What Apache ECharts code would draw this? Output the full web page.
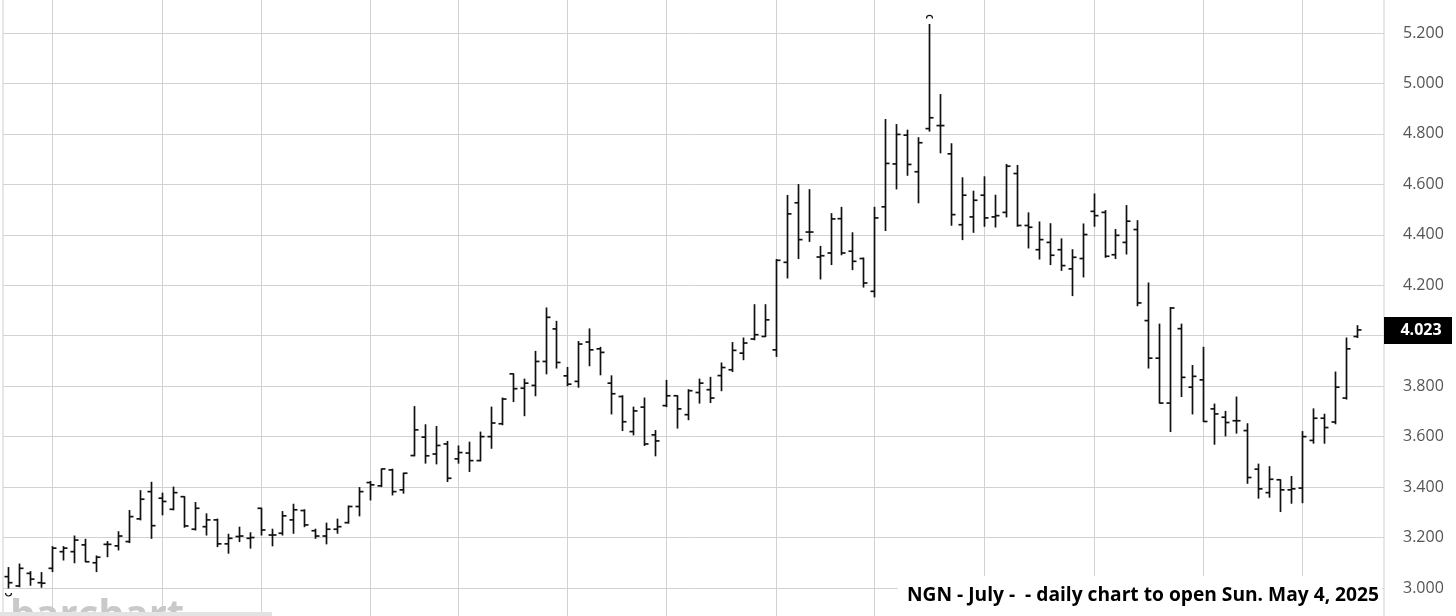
<!DOCTYPE html>
<html><head><meta charset="utf-8">
<script src="https://cdn.jsdelivr.net/npm/echarts@6/dist/echarts.min.js"></script>
<style>html,body{margin:0;padding:0;background:#fff}#c{width:1456px;height:616px}</style>
</head><body><div id="c"></div>
<script>
const categories = ['2024-11-05','2024-11-06','2024-11-07','2024-11-08','2024-11-11','2024-11-12','2024-11-13','2024-11-14','2024-11-15','2024-11-18','2024-11-19','2024-11-20','2024-11-21','2024-11-22','2024-11-25','2024-11-26','2024-11-27','2024-11-29','2024-12-02','2024-12-03','2024-12-04','2024-12-05','2024-12-06','2024-12-09','2024-12-10','2024-12-11','2024-12-12','2024-12-13','2024-12-16','2024-12-17','2024-12-18','2024-12-19','2024-12-20','2024-12-23','2024-12-24','2024-12-26','2024-12-27','2024-12-30','2024-12-31','2025-01-02','2025-01-03','2025-01-06','2025-01-07','2025-01-08','2025-01-09','2025-01-10','2025-01-13','2025-01-14','2025-01-15','2025-01-16','2025-01-17','2025-01-21','2025-01-22','2025-01-23','2025-01-24','2025-01-27','2025-01-28','2025-01-29','2025-01-30','2025-01-31','2025-02-03','2025-02-04','2025-02-05','2025-02-06','2025-02-07','2025-02-10','2025-02-11','2025-02-12','2025-02-13','2025-02-14','2025-02-18','2025-02-19','2025-02-20','2025-02-21','2025-02-24','2025-02-25','2025-02-26','2025-02-27','2025-02-28','2025-03-03','2025-03-04','2025-03-05','2025-03-06','2025-03-07','2025-03-10','2025-03-11','2025-03-12','2025-03-13','2025-03-14','2025-03-17','2025-03-18','2025-03-19','2025-03-20','2025-03-21','2025-03-24','2025-03-25','2025-03-26','2025-03-27','2025-03-28','2025-03-31','2025-04-01','2025-04-02','2025-04-03','2025-04-04','2025-04-07','2025-04-08','2025-04-09','2025-04-10','2025-04-11','2025-04-14','2025-04-15','2025-04-16','2025-04-17','2025-04-21','2025-04-22','2025-04-23','2025-04-24','2025-04-25','2025-04-28','2025-04-29','2025-04-30','2025-05-01','2025-05-02','2025-05-05','2025-05-06','2025-05-07'];

const gridDates = ['2024-11-11','2024-11-25','2024-12-09','2024-12-23','2025-01-06','2025-01-21','2025-02-03','2025-02-18','2025-03-03','2025-03-17','2025-03-31','2025-04-14','2025-04-28'];

const opens = [3.045,3.008,3.058,3.021,3.078,3.144,3.144,3.171,3.100,3.173,3.167,3.184,3.274,3.382,3.356,3.312,3.362,3.233,3.243,3.270,3.175,3.204,3.197,3.316,3.210,3.217,3.270,3.307,3.227,3.206,3.233,3.259,3.323,3.418,3.405,3.468,3.389,3.525,3.598,3.531,3.571,3.512,3.535,3.505,3.600,3.651,3.849,3.792,3.803,3.898,4.027,3.841,3.819,3.975,3.948,3.812,3.759,3.620,3.717,3.607,3.723,3.762,3.687,3.775,3.786,3.842,3.865,3.931,3.987,3.997,3.944,4.291,4.527,4.411,4.312,4.328,4.464,4.335,4.306,4.176,4.511,4.681,4.795,4.650,4.821,4.833,4.721,4.440,4.471,4.557,4.471,4.489,4.643,4.437,4.341,4.370,4.341,4.265,4.306,4.493,4.489,4.321,4.370,4.421,4.060,3.911,3.733,4.028,3.796,3.825,3.710,3.677,3.663,3.624,3.471,3.378,3.429,3.389,3.396,3.585,3.673,3.658,3.753,3.997];
const highs = [3.081,3.095,3.065,3.061,3.164,3.164,3.206,3.193,3.127,3.184,3.223,3.307,3.386,3.419,3.376,3.400,3.362,3.339,3.294,3.273,3.213,3.241,3.219,3.316,3.233,3.303,3.332,3.310,3.233,3.257,3.273,3.325,3.398,3.422,3.472,3.471,3.455,3.719,3.647,3.640,3.581,3.563,3.578,3.618,3.717,3.753,3.849,3.828,3.938,4.110,4.057,3.874,3.977,4.027,3.954,3.841,3.762,3.717,3.753,3.624,3.823,3.762,3.786,3.828,3.835,3.892,3.973,3.991,4.123,4.123,4.302,4.556,4.599,4.579,4.354,4.484,4.509,4.408,4.308,4.509,4.857,4.837,4.815,4.785,5.234,4.956,4.761,4.626,4.573,4.630,4.557,4.679,4.675,4.487,4.451,4.444,4.384,4.341,4.443,4.562,4.496,4.421,4.516,4.456,4.209,4.046,4.112,4.046,3.882,3.954,3.729,3.700,3.757,3.651,3.491,3.481,3.429,3.442,3.620,3.710,3.689,3.856,3.991,4.040];
const lows = [3.000,3.005,3.011,3.003,3.065,3.111,3.100,3.104,3.065,3.124,3.151,3.180,3.270,3.197,3.290,3.310,3.241,3.230,3.210,3.164,3.138,3.184,3.158,3.210,3.167,3.210,3.217,3.243,3.197,3.175,3.217,3.257,3.286,3.349,3.402,3.369,3.376,3.524,3.495,3.492,3.422,3.495,3.462,3.504,3.554,3.647,3.739,3.683,3.762,3.849,3.872,3.802,3.796,3.881,3.845,3.690,3.624,3.607,3.565,3.524,3.719,3.634,3.667,3.733,3.735,3.782,3.858,3.905,3.984,3.997,3.918,4.229,4.306,4.374,4.225,4.282,4.321,4.262,4.193,4.154,4.417,4.582,4.636,4.527,4.811,4.725,4.438,4.381,4.410,4.434,4.431,4.471,4.434,4.348,4.304,4.282,4.259,4.159,4.233,4.434,4.311,4.306,4.324,4.119,3.872,3.733,3.620,3.759,3.690,3.660,3.570,3.603,3.614,3.415,3.356,3.360,3.303,3.336,3.338,3.574,3.574,3.651,3.749,3.993];
const closes = [3.021,3.078,3.035,3.019,3.158,3.158,3.190,3.104,3.122,3.173,3.206,3.283,3.352,3.247,3.343,3.378,3.246,3.316,3.270,3.175,3.197,3.206,3.200,3.230,3.210,3.286,3.310,3.250,3.206,3.233,3.243,3.323,3.382,3.409,3.472,3.382,3.455,3.627,3.524,3.565,3.435,3.537,3.505,3.600,3.654,3.749,3.790,3.812,3.898,4.073,3.894,3.808,3.967,3.944,3.934,3.770,3.659,3.702,3.571,3.583,3.762,3.710,3.782,3.812,3.753,3.874,3.942,3.971,4.004,4.063,4.299,4.483,4.381,4.411,4.317,4.463,4.328,4.295,4.209,4.467,4.683,4.798,4.679,4.765,4.864,4.833,4.480,4.557,4.537,4.467,4.476,4.672,4.437,4.430,4.381,4.319,4.278,4.311,4.401,4.476,4.315,4.398,4.454,4.130,3.911,3.733,4.110,3.835,3.839,3.660,3.690,3.656,3.663,3.438,3.393,3.431,3.389,3.393,3.600,3.673,3.636,3.796,3.948,4.023];

const yTicks = {min: 2.8, max: 5.4, interval: 0.2};
const lastPrice = closes[closes.length - 1];
const caption = 'NGN - July -  - daily chart to open Sun. May 4, 2025';

const ohlc = opens.map((o, i) => [i, o, highs[i], lows[i], closes[i]]);
let hiIdx = 0, loIdx = 0;
highs.forEach((h, i) => { if (h > highs[hiIdx]) hiIdx = i; });
lows.forEach((l, i) => { if (l < lows[loIdx]) loIdx = i; });

const chart = echarts.init(document.getElementById('c'), null, {renderer: 'canvas'});
const INK = '#111';
function renderBar(params, api) {
  const i = api.value(0);
  const hp = api.coord([i, api.value(2)]);
  const lp = api.coord([i, api.value(3)]);
  const op = api.coord([i, api.value(1)]);
  const cp = api.coord([i, api.value(4)]);
  const x = Math.round(hp[0]) + 0.5;
  const st = {stroke: INK, lineWidth: 1.7, fill: null};
  const kids = [
    {type: 'line', shape: {x1: x, y1: hp[1] - 0.5, x2: x, y2: lp[1] + 0.5}, style: st},
    {type: 'line', shape: {x1: x - 4, y1: op[1], x2: x, y2: op[1]}, style: st},
    {type: 'line', shape: {x1: x, y1: cp[1], x2: x + 4, y2: cp[1]}, style: st}
  ];
  if (i === hiIdx) kids.push({type: 'arc', shape: {cx: x, cy: hp[1] - 6, r: 3, startAngle: Math.PI, endAngle: 2 * Math.PI}, style: {stroke: INK, lineWidth: 1.2, fill: null}});
  if (i === loIdx) kids.push({type: 'arc', shape: {cx: x, cy: lp[1] + 5, r: 3, startAngle: 0, endAngle: Math.PI}, style: {stroke: INK, lineWidth: 1.2, fill: null}});
  return {type: 'group', children: kids};
}
function renderVGrid(params, api) {
  const p = api.coord([api.value(0), 4]);
  const cs = params.coordSys;
  const x = Math.round(p[0]) + 0.5;
  return {type: 'line', shape: {x1: x, y1: cs.y, x2: x, y2: cs.y + cs.height}, style: {stroke: '#d2d2d2', lineWidth: 1}};
}

chart.setOption({
  animation: false,
  backgroundColor: '#ffffff',
  grid: {left: 3, right: 72, top: -17.45, bottom: -22.45, outerBoundsMode: 'none', containLabel: false, show: true, borderColor: '#cfcfcf', borderWidth: 1, backgroundColor: 'transparent'},
  xAxis: {type: 'category', data: categories, boundaryGap: true, axisLine: {show: false}, axisTick: {show: false}, axisLabel: {show: false}, splitLine: {show: false}},
  yAxis: {type: 'value', position: 'right', min: yTicks.min, max: yTicks.max, interval: yTicks.interval,
    axisLine: {show: false}, axisTick: {show: false},
    axisLabel: {color: '#555', fontSize: 16, fontFamily: 'Open Sans', margin: 19, formatter: v => v.toFixed(3)},
    splitLine: {lineStyle: {color: '#d2d2d2', width: 1}}},
  series: [
    {type: 'custom', z: 1, silent: true, renderItem: renderVGrid, data: gridDates.map(d => [d]), encode: {x: 0}},
    {type: 'custom', z: 3, silent: true, renderItem: renderBar, data: ohlc, encode: {x: 0, y: [1, 2, 3, 4]}}
  ]
});

const py = chart.convertToPixel({yAxisIndex: 0}, lastPrice);
chart.setOption({
  graphic: [
    {type: 'rect', shape: {x: 1384, y: Math.round(py) - 13, width: 68, height: 27}, style: {fill: '#000'}, z: 10},
    {type: 'text', x: 1421, y: Math.round(py) + 0.5, style: {text: lastPrice.toFixed(3), fill: '#fff', font: 'bold 16px "Open Sans"', textAlign: 'center', textVerticalAlign: 'middle'}, z: 11},
    {type: 'text', x: 10, y: 597, style: {text: 'barchart', fill: '#c9c9c9', font: 'bold 40px "Open Sans"', textAlign: 'left', textVerticalAlign: 'top'}, z: 10},
    {type: 'rect', shape: {x: 0, y: 612, width: 272, height: 4}, style: {fill: '#e3e3e3'}, z: 11},
    {type: 'rect', shape: {x: 898, y: 576, width: 484, height: 40}, style: {fill: '#fff'}, z: 10},
    {type: 'text', x: 907, y: 596, style: {text: caption, fill: '#000', font: 'bold 19.2px "Open Sans"', textAlign: 'left', textVerticalAlign: 'middle'}, z: 11}
  ]
});
</script></body></html>
